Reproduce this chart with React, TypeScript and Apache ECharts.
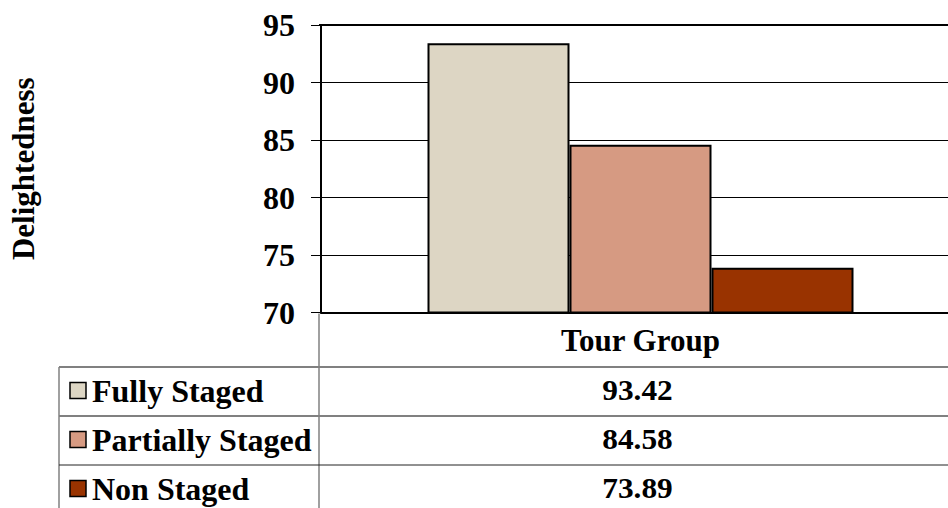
import React, { useEffect, useRef } from "react";
import * as echarts from "echarts";

// Chart data
const categories = ["Tour Group"];
const seriesNames = ["Fully Staged", "Partially Staged", "Non Staged"];
const seriesValues = [93.42, 84.58, 73.89];
const seriesColors = ["#DDD6C4", "#D69A82", "#993300"];
const yMin = 70;
const yMax = 95;
const yStep = 5;
const yTitle = "Delightedness";

const FONT = "Liberation Serif";
const CHART_W = 960;
const CHART_H = 508;

export default function App() {
  const ref = useRef<HTMLDivElement>(null);

  useEffect(() => {
    if (!ref.current) return;
    const chart = echarts.init(ref.current, undefined, { renderer: "svg" });

    chart.setOption({
      animation: false,
      backgroundColor: "#ffffff",
      grid: { left: 319, right: 0, top: 25, bottom: 195.5, containLabel: false },
      xAxis: {
        type: "category",
        data: categories,
        axisLine: { show: true, lineStyle: { color: "#000", width: 2 } },
        axisTick: { show: false },
        axisLabel: {
          margin: 12,
          fontFamily: FONT,
          fontSize: 31,
          fontWeight: "bold",
          color: "#000",
        },
        splitLine: { show: false },
      },
      yAxis: {
        type: "value",
        min: yMin,
        max: yMax,
        interval: yStep,
        name: yTitle,
        nameLocation: "middle",
        nameRotate: 90,
        nameGap: 282,
        nameTextStyle: { fontFamily: FONT, fontSize: 31, fontWeight: "bold", color: "#000" },
        axisLine: { show: true, lineStyle: { color: "#000", width: 2 } },
        axisTick: { show: true, inside: false, length: 10, lineStyle: { color: "#000", width: 1 } },
        axisLabel: {
          margin: 26,
          fontFamily: FONT,
          fontSize: 32,
          fontWeight: "bold",
          color: "#000",
        },
        splitLine: { show: true, lineStyle: { color: "#000", width: 1 } },
      },
      series: seriesNames.map((name, i) => ({
        name,
        type: "bar",
        data: [seriesValues[i]],
        barGap: "0%",
        barWidth: 142,
        itemStyle: { color: seriesColors[i], borderColor: "#000", borderWidth: 2 },
      })),
    });

    // Data table under the plot, plus the frame line at the top of the plot
    const catX = chart.convertToPixel({ xAxisIndex: 0 }, 0) as number;
    const yTop = chart.convertToPixel({ yAxisIndex: 0 }, yMax) as number;
    const yBottom = chart.convertToPixel({ yAxisIndex: 0 }, yMin) as number;
    const axisX = 319;
    const tableLeft = 59;
    const tableTop = 367;
    const rowH = 49;
    const right = CHART_W;
    const grey = "#808080";

    const graphic: any[] = [
      {
        type: "line",
        shape: { x1: axisX, y1: yTop, x2: right, y2: yTop },
        style: { stroke: "#000", lineWidth: 2 },
        z: 10,
      },
      {
        type: "line",
        shape: { x1: axisX, y1: yBottom + 1, x2: axisX, y2: CHART_H },
        style: { stroke: grey, lineWidth: 1.5 },
      },
      {
        type: "line",
        shape: { x1: tableLeft, y1: tableTop, x2: tableLeft, y2: CHART_H },
        style: { stroke: grey, lineWidth: 1.5 },
      },
    ];

    seriesNames.forEach((name, i) => {
      const top = tableTop + i * rowH;
      const mid = top + rowH / 2 - 1;
      graphic.push({
        type: "line",
        shape: { x1: tableLeft, y1: top, x2: right, y2: top },
        style: { stroke: i === 2 ? "#222" : grey, lineWidth: i === 2 ? 1 : 2 },
      });
      graphic.push({
        type: "rect",
        shape: { x: 70, y: mid - 8, width: 16, height: 16 },
        style: { fill: seriesColors[i], stroke: "#000", lineWidth: 1.5 },
      });
      graphic.push({
        type: "text",
        x: 92,
        y: mid,
        style: {
          text: name,
          fontFamily: FONT,
          fontSize: 32,
          fontWeight: "bold",
          fill: "#000",
          align: "left",
          verticalAlign: "middle",
          textAlign: "left",
          textVerticalAlign: "middle",
        },
      });
      graphic.push({
        type: "text",
        x: catX - 3,
        y: mid,
        scaleX: 1.08,
        style: {
          text: seriesValues[i].toFixed(2),
          fontFamily: FONT,
          fontSize: 29,
          fontWeight: "bold",
          fill: "#000",
          align: "center",
          verticalAlign: "middle",
          textAlign: "center",
          textVerticalAlign: "middle",
        },
      });
    });

    chart.setOption({ graphic });

    return () => chart.dispose();
  }, []);

  return (
    <div
      style={{
        position: "fixed",
        left: 0,
        top: 0,
        width: 948,
        height: CHART_H,
        overflow: "hidden",
        background: "#fff",
      }}
    >
      <div ref={ref} style={{ width: CHART_W, height: CHART_H }} />
    </div>
  );
}
